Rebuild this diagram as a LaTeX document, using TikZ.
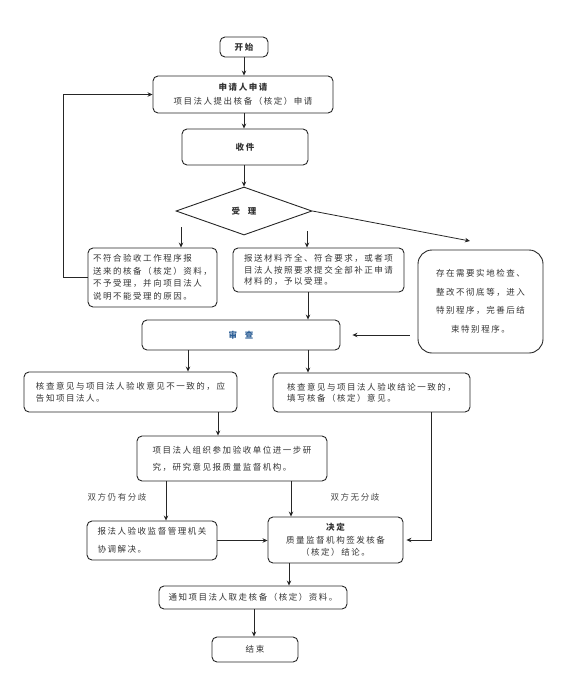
\documentclass[tikz,border=0pt]{standalone}
\usepackage{fontspec}
\newfontfamily\cjk{Noto Sans CJK SC}[LetterSpace=18]
\usetikzlibrary{shapes.geometric,arrows.meta,calc}
\begin{document}
\begin{tikzpicture}[x=1pt,y=-1pt,
  box/.style={draw=black!85, line width=0.9pt, rounded corners=5pt, inner sep=2pt,
    font=\cjk\fontsize{8.5}{12.5}\selectfont, text=black!80},
  ln/.style={line width=0.8pt, draw=black!85},
  arr/.style={ln, -{Stealth[length=5pt,width=4.5pt]}},
  lbl/.style={font=\cjk\fontsize{8.5}{10}\selectfont, text=black!72}
]
\useasboundingbox (0,0) rectangle (563,681);

\node[box, minimum width=48, minimum height=20] (start) at (244,47) {\bfseries 开始};
\node[box, minimum width=180, minimum height=37, align=center, font=\cjk\fontsize{8.5}{14}\selectfont] (apply) at (243,94.5) {{\bfseries 申请人申请}\\项目法人提出核备（核定）申请};
\node[box, minimum width=126, minimum height=36] (recv) at (245,147) {\bfseries 收件};
\node[diamond, draw=black!85, line width=0.9pt, minimum width=136, minimum height=48, inner sep=0pt, aspect=2.8, font=\cjk\bfseries\fontsize{8.5}{12}\selectfont, text=black!80] (d) at (244,211) {受\hspace{8pt}理};

\node[box, minimum width=129, minimum height=59, align=left] (rej) at (152.5,277.5) {不符合验收工作程序报\\送来的核备（核定）资料，\\不予受理，并向项目法人\\说明不能受理的原因。};
\node[box, minimum width=171, minimum height=44, align=left, font=\cjk\fontsize{8.5}{11.5}\selectfont] (acc) at (318.5,270) {报送材料齐全、符合要求，或者项\\目法人按照要求提交全部补正申请\\材料的，予以受理。};
\node[box, rounded corners=14pt, minimum width=125, minimum height=103, align=center, font=\cjk\fontsize{8.5}{18.5}\selectfont] (spec) at (480.5,301.5) {存在需要实地检查、\\整改不彻底等，进入\\特别程序，完善后结\\束特别程序。};

\node[box, minimum width=198, minimum height=30, text={rgb,255:red,45;green,95;blue,150}] (rev) at (241,335) {\bfseries 审\hspace{8pt}查};

\node[box, minimum width=213, minimum height=40, align=left, font=\cjk\fontsize{8.5}{12}\selectfont] (dis) at (130.5,392) {核查意见与项目法人验收意见不一致的，应\\告知项目法人。};
\node[box, minimum width=197, minimum height=39, align=left, font=\cjk\fontsize{8.5}{11}\selectfont] (agr) at (371.5,392.5) {核查意见与项目法人验收结论一致的，\\填写核备（核定）意见。};

\node[box, minimum width=190, minimum height=45, align=left, font=\cjk\fontsize{8.5}{17}\selectfont] (org) at (232,458.5) {项目法人组织参加验收单位进一步研\\究，研究意见报质量监督机构。};

\node[lbl] (l1) at (117,497) {双方仍有分歧};
\node[lbl] (l2) at (355,497) {双方无分歧};

\node[box, minimum width=130, minimum height=39, align=left, font=\cjk\fontsize{8.5}{18}\selectfont] (cbox) at (152,540.5) {报法人验收监督管理机关\\协调解决。};
\node[box, minimum width=135, minimum height=46, align=center, font=\cjk\fontsize{8.5}{12.5}\selectfont] (dec) at (335.5,540) {{\bfseries 决定}\\质量监督机构签发核备\\（核定）结论。};

\node[box, minimum width=188, minimum height=23] (notif) at (253,597.5) {通知项目法人取走核备（核定）资料。};
\node[box, minimum width=86, minimum height=25] (fin) at (255,649.5) {结束};

% helper coordinates
\coordinate (k1) at (181,227);
\coordinate (k2) at (307,231);
\coordinate (kr) at (470,241);
\coordinate (lx) at (63,0);
\coordinate (c188) at (188,0);
\coordinate (c308) at (308,0);
\coordinate (c431) at (431,0);
\coordinate (c218) at (218,0);
\coordinate (c166) at (166,0);
\coordinate (c291) at (291,0);
\coordinate (c289) at (289,0);
\coordinate (c254) at (254,0);
\coordinate (c244) at (244,0);

\draw[arr] (c244 |- start.south) -- (c244 |- apply.north);
\draw[arr] (c244 |- apply.south) -- (c244 |- recv.north);
\draw[arr] (c244 |- recv.south) -- (d.north);
\draw[arr] (d.east) -- (kr);
\draw[arr] (k1) -- (k1 |- rej.north);
\draw[arr] (k2) -- (k2 |- acc.north);
\draw[arr] (rej.west) -| (lx |- apply.west) -- (apply.west);
\draw[arr] (c308 |- acc.south) -- (c308 |- rev.north);
\draw[arr, shorten <=8pt, shorten >=12pt] (spec.west |- rev.east) -- (rev.east);
\draw[arr] (c188 |- rev.south) -- (c188 |- dis.north);
\draw[arr] (c308 |- rev.south) -- (c308 |- agr.north);
\draw[arr, shorten >=3pt] (c431 |- agr.south) |- (dec.east);
\draw[arr] (c218 |- dis.south) -- (c218 |- org.north);
\draw[arr] (c166 |- org.south) -- (c166 |- cbox.north);
\draw[arr] (c291 |- org.south) -- (c291 |- dec.north);
\draw[arr] (cbox.east) -- (cbox.east -| dec.west);
\draw[arr] (c289 |- dec.south) -- (c289 |- notif.north);
\draw[arr] (c254 |- notif.south) -- (c254 |- fin.north);
\end{tikzpicture}
\end{document}
